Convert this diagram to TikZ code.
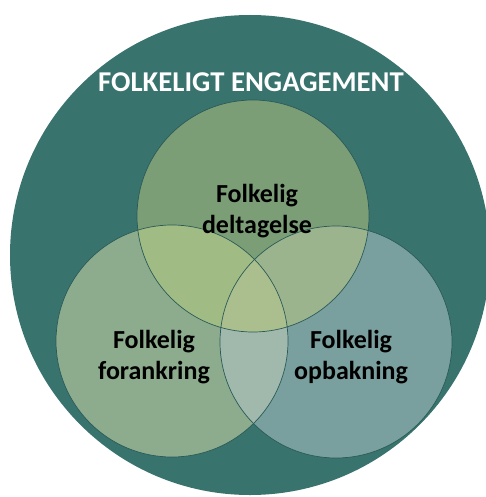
\documentclass[tikz,border=0pt]{standalone}
\usepackage{fontspec}
\setmainfont{Carlito}
\definecolor{engteal}{HTML}{38736E}
\definecolor{rimteal}{HTML}{2A5B57}
\definecolor{deltgreen}{HTML}{7B9E77}
\definecolor{foragreen}{HTML}{8DAC8E}
\definecolor{opbateal}{HTML}{79A09E}
\definecolor{delfor}{HTML}{A0BC84}
\definecolor{delopb}{HTML}{9BB48E}
\definecolor{foropb}{HTML}{A0B9AC}
\definecolor{allthree}{HTML}{ABBF8E}
\begin{document}
\begin{tikzpicture}[x=1pt, y=-1pt,
    venn/.style={circle, minimum size=232pt, inner sep=0pt},
    rim/.style={draw=rimteal, line width=0.7pt},
    label/.style={align=center, font=\bfseries\fontsize{26}{31.5}\selectfont}]
  \useasboundingbox (0,0) rectangle (486,497);
  \clip (0,0) rectangle (486,497);

      % Draw outer circle
  \fill[engteal] (250,255) circle (240);
  \node[text=white, font=\bfseries\fontsize{28.7}{34}\selectfont] (title) at (251,82) {FOLKELIGT ENGAGEMENT};

      % Draw the three circles
  \node[venn, fill=deltgreen] (delt) at (253,216) {};
  \node[venn, fill=foragreen] (fora) at (172,341) {};
  \node[venn, fill=opbateal] (opba) at (336,342) {};

      % Fill the overlaps
  \begin{scope}
    \clip (delt.center) circle (116);
    \fill[delfor] (fora.center) circle (116);
    \fill[delopb] (opba.center) circle (116);
  \end{scope}
  \begin{scope}
    \clip (fora.center) circle (116);
    \fill[foropb] (opba.center) circle (116);
  \end{scope}
  \begin{scope}
    \clip (delt.center) circle (116);
    \clip (fora.center) circle (116);
    \fill[allthree] (opba.center) circle (116);
  \end{scope}

      % Outlines
  \draw[rim] (delt.center) circle (116);
  \draw[rim] (fora.center) circle (116);
  \draw[rim] (opba.center) circle (116);

      % Add labels
  \node[label] (ldelt) at (257,211) {Folkelig\\deltagelse};
  \node[label] (lfora) at (154,357) {Folkelig\\forankring};
  \node[label] (lopba) at (351,357) {Folkelig\\opbakning};
\end{tikzpicture}
\end{document}
